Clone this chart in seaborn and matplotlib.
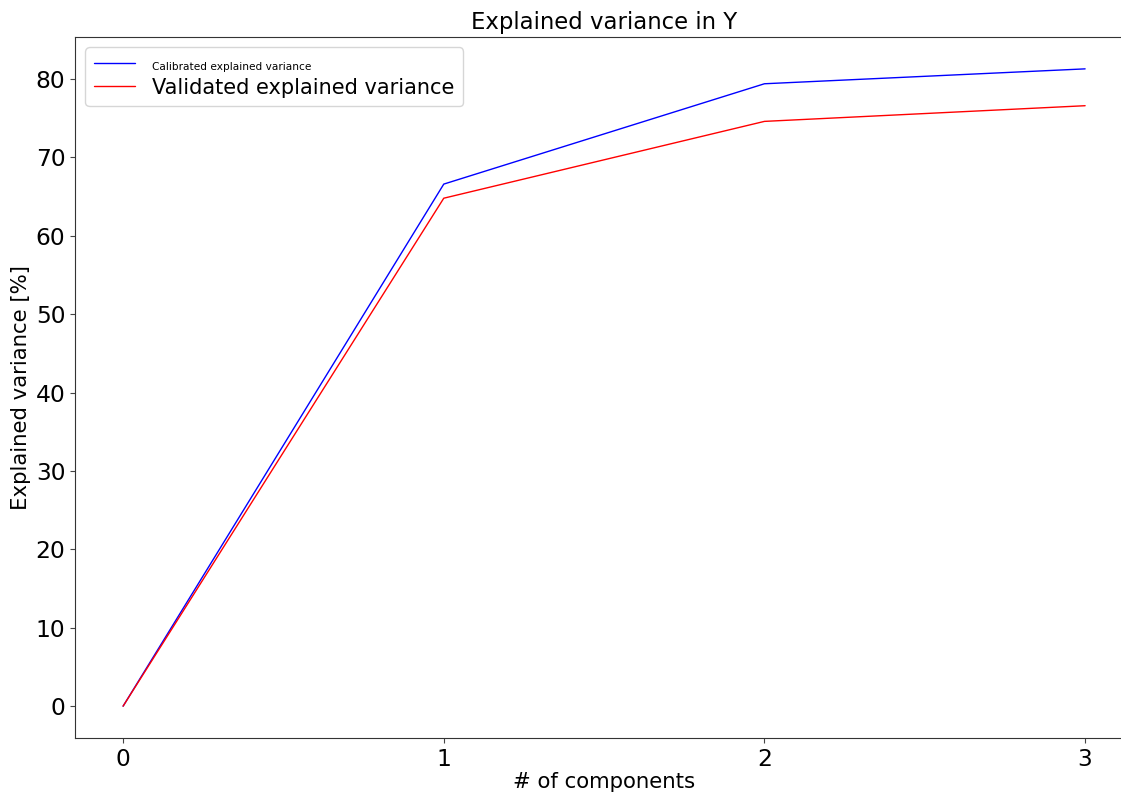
import matplotlib
matplotlib.use("Agg")
import matplotlib.pyplot as plt
import seaborn as sns
import pandas as pd

components = [0, 1, 2, 3]
calibrated = [0.0, 66.6, 79.4, 81.3]
validated = [0.0, 64.8, 74.6, 76.6]
series_names = ["Calibrated explained variance", "Validated explained variance"]

sns.set_style("ticks")
plt.rcParams['font.family'] = ['DejaVu Sans']
plt.rcParams['text.color'] = 'black'
plt.rcParams['axes.labelcolor'] = 'black'
plt.rcParams['xtick.labelcolor'] = 'black'
plt.rcParams['ytick.labelcolor'] = 'black'

df = pd.DataFrame({
    "comp": components * 2,
    "val": calibrated + validated,
    "series": [series_names[0]] * 4 + [series_names[1]] * 4,
})

fig = plt.figure(figsize=(11.21, 7.94), dpi=100)
ax = fig.add_axes([0.0669, 0.0705, 0.944, 0.8829])
sns.lineplot(data=df, x="comp", y="val", hue="series",
             palette={series_names[0]: "blue", series_names[1]: "red"},
             linewidth=1.0, ax=ax)
ax.set_xticks(components)
ax.tick_params(labelsize=16.8, colors="#444444", labelcolor="black")
ax.set_title("Explained variance in Y", fontsize=16.4, color="black")
ax.set_xlabel("# of components", fontsize=15.3, labelpad=1)
ax.set_ylabel("Explained variance [%]", fontsize=15.3, labelpad=3)
for s in ax.spines.values():
    s.set_color("#333333")
leg = ax.legend(loc="upper left", fontsize=15, labelspacing=0.25)
leg.get_texts()[0].set_fontsize(7.6)
for t in leg.get_texts():
    t.set_color("black")
fig.savefig("out.png", dpi=100)
